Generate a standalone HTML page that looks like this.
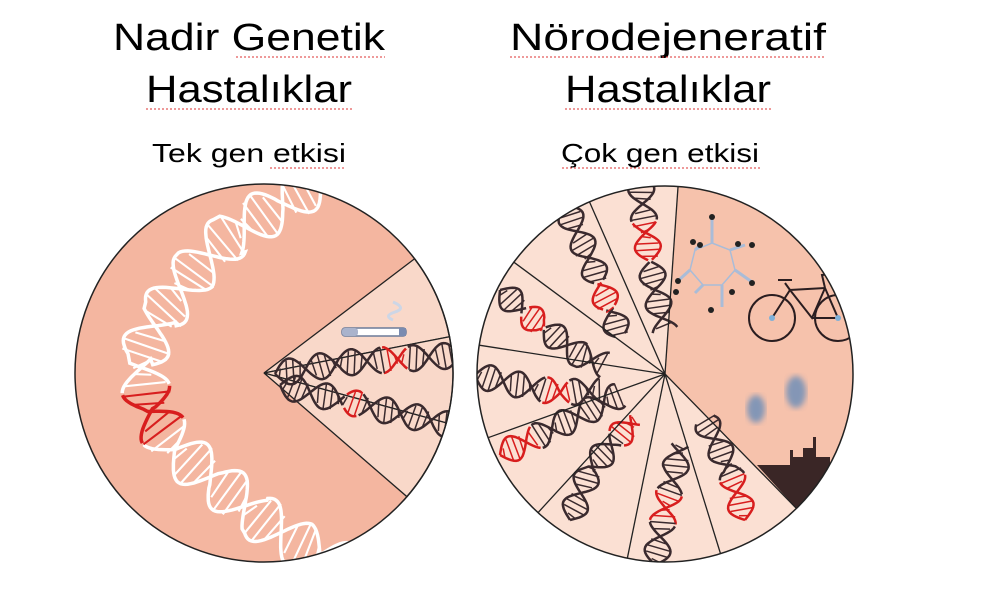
<!DOCTYPE html>
<html><head><meta charset="utf-8"><style>
html,body{margin:0;padding:0;background:#fff;}
svg{display:block;}
text{font-family:"Liberation Sans",sans-serif;fill:#000;}
</style></head><body>
<svg id="s" width="1000" height="600" viewBox="0 0 1000 600" xmlns="http://www.w3.org/2000/svg">
<defs><filter id="bl"><feGaussianBlur stdDeviation="3"/></filter></defs>
<text x="249" y="50" font-size="38" text-anchor="middle" textLength="272" lengthAdjust="spacingAndGlyphs">Nadir Genetik</text>
<text x="249" y="102" font-size="38" text-anchor="middle" textLength="206" lengthAdjust="spacingAndGlyphs">Hastalıklar</text>
<text x="249" y="162" font-size="26" text-anchor="middle" textLength="194" lengthAdjust="spacingAndGlyphs">Tek gen etkisi</text>
<text x="668" y="50" font-size="38" text-anchor="middle" textLength="316" lengthAdjust="spacingAndGlyphs">Nörodejeneratif</text>
<text x="668" y="102" font-size="38" text-anchor="middle" textLength="206" lengthAdjust="spacingAndGlyphs">Hastalıklar</text>
<text x="660" y="162" font-size="26" text-anchor="middle" textLength="198" lengthAdjust="spacingAndGlyphs">Çok gen etkisi</text>
<g stroke="#d33" stroke-width="1" fill="none" stroke-dasharray="2 2">
<path d="M236 57 H385 M146 109 H352 M270 168 H345 M510 57 H826 M565 109 H771 M562 168 H760"/>
</g>
<g id="L"></g>
<g id="R"></g>
</svg>
<script>
const NS="http://www.w3.org/2000/svg";
function el(p,t,a){const e=document.createElementNS(NS,t);for(const k in a)e.setAttribute(k,a[k]);p.appendChild(e);return e;}
function wedge(cx,cy,r,p1,p2,big){
 return `M${cx} ${cy} L${p1[0]} ${p1[1]} A${r} ${r} 0 ${big?1:0} 1 ${p2[0]} ${p2[1]} Z`;}
function pt(cx,cy,r,x,y){const a=Math.atan2(y-cy,x-cx);return [cx+r*Math.cos(a),cy+r*Math.sin(a)];}
function helix(g,pts,A,period,col,reds,sw){
 let segs=[],L=0;
 for(let i=0;i<pts.length-1;i++){const dx=pts[i+1][0]-pts[i][0],dy=pts[i+1][1]-pts[i][1];const l=Math.hypot(dx,dy);segs.push([L,l,dx/l,dy/l,pts[i]]);L+=l;}
 function at(s){for(const sg of segs){if(s<=sg[0]+sg[1]+1e-6){const u=s-sg[0];return [sg[4][0]+sg[2]*u,sg[4][1]+sg[3]*u,-sg[3],sg[2]];}}const sg=segs[segs.length-1];return [sg[4][0]+sg[2]*sg[1],sg[4][1]+sg[3]*sg[1],-sg[3],sg[2]];}
 const n=Math.ceil(L/2);let s1=[],s2=[];
 for(let i=0;i<=n;i++){const s=L*i/n;const p=at(s);const o=A*Math.sin(2*Math.PI*s/period);s1.push([p[0]+p[2]*o,p[1]+p[3]*o,s]);s2.push([p[0]-p[2]*o,p[1]-p[3]*o,s]);}
 const isRed=s=>reds.some(r=>s>=r[0]*L&&s<=r[1]*L);
 function draw(arr){let d="",c=null;
  for(const q of arr){const cc=isRed(q[2])?"#d81e1e":col;
   if(cc!==c){if(d)el(g,"path",{d,stroke:c,fill:"none","stroke-width":sw});d=`M${q[0].toFixed(1)} ${q[1].toFixed(1)}`;c=cc;}else d+=` L${q[0].toFixed(1)} ${q[1].toFixed(1)}`;}
  if(d)el(g,"path",{d,stroke:c,fill:"none","stroke-width":sw});}
 draw(s1);draw(s2);
 const step=period/9;
 for(let s=step/2;s<L;s+=step){const ph=Math.sin(2*Math.PI*s/period);if(Math.abs(ph)<0.3)continue;const p=at(s),p2=at(Math.min(L,s+step*0.4));const o=A*ph;
  el(g,"line",{x1:p[0]+p[2]*o,y1:p[1]+p[3]*o,x2:p2[0]-p2[2]*o,y2:p2[1]-p2[3]*o,stroke:isRed(s)?"#d81e1e":col,"stroke-width":sw*0.6});}
}
// LEFT
const L=document.getElementById("L");
const cx=264,cy=373,r=189;
el(L,"circle",{cx,cy,r,fill:"#f4b6a0"});
const lp=[[413,260],[448,337],[443,422],[405,495]].map(p=>pt(cx,cy,r,p[0],p[1]));
for(let i=0;i<3;i++)el(L,"path",{d:wedge(cx,cy,r,lp[i],lp[i+1]),fill:"#f9d8c9",stroke:"#222","stroke-width":1.3});
const cl=el(L,"clipPath",{id:"cl"});el(cl,"circle",{cx,cy,r});
const lg=el(L,"g",{"clip-path":"url(#cl)"});
helix(lg,[[320,178],[280,205],[230,235],[195,270],[160,315],[140,360],[150,410],[175,450],[215,480],[255,515],[300,545],[360,575]],24,90,"#fff",[[0.5,0.58]],3.5);
el(L,"rect",{x:342,y:328,width:64,height:8,rx:3,fill:"#fff",stroke:"#6b7a99","stroke-width":1.5});
el(L,"rect",{x:342,y:328,width:16,height:8,rx:3,fill:"#aab3cc"});
el(L,"rect",{x:399,y:328,width:7,height:8,fill:"#7a8bb0"});
el(L,"path",{d:"M393 320 q-10 -4 2 -8 q12 -4 -2 -10",stroke:"#cdd6e6","stroke-width":3,fill:"none"});
helix(lg,[[275,374],[340,363],[460,355]],13,62,"#3a2a2e",[[0.58,0.72]],2.5);
helix(lg,[[280,385],[340,400],[450,425]],13,62,"#3a2a2e",[[0.38,0.47]],2.5);
el(L,"circle",{cx,cy,r,fill:"none",stroke:"#222","stroke-width":1.5});
// RIGHT
const R=document.getElementById("R");
const X=665,Y=374,Rr=188;
el(R,"circle",{cx:X,cy:Y,r:Rr,fill:"#fbe0d3"});
const sp=[[678,187],[590,203],[515,263],[478,345],[490,437],[545,505],[628,555],[720,552],[795,507]].map(p=>pt(X,Y,Rr,p[0],p[1]));
el(R,"path",{d:wedge(X,Y,Rr,sp[0],sp[8],false),fill:"#f6c2ac",stroke:"none"});
const cr=el(R,"clipPath",{id:"cr"});el(cr,"circle",{cx:X,cy:Y,r:Rr});
const rg=el(R,"g",{"clip-path":"url(#cr)"});
el(rg,"path",{d:"M757 465 L790 465 L790 450 L793 450 L793 457 L803 457 L803 448 L813 448 L813 437 L816 437 L816 457 L830 457 L830 470 L860 470 L860 560 L795 507 Z",fill:"#3a2626"});
el(rg,"ellipse",{cx:796,cy:392,rx:10,ry:16,fill:"#6f8fb8",opacity:0.85,filter:"url(#bl)"});
el(rg,"ellipse",{cx:756,cy:409,rx:9,ry:14,fill:"#6f8fb8",opacity:0.85,filter:"url(#bl)"});
const mg=el(rg,"g",{stroke:"#a9bcd8","stroke-width":3,fill:"none"});
el(mg,"polygon",{points:"712,243 730,250 735,270 722,285 703,285 690,270 695,250","stroke-width":1.5});
[[712,243,712,218],[730,250,745,245],[735,270,752,282],[722,285,722,307],[703,285,695,293],[690,270,680,279],[695,250,700,245]].forEach(a=>el(mg,"line",{x1:a[0],y1:a[1],x2:a[2],y2:a[3]}));
[[712,217],[693,242],[700,245],[738,244],[752,245],[752,283],[732,292],[711,310],[678,281],[676,292]].forEach(c=>el(rg,"circle",{cx:c[0],cy:c[1],r:3,fill:"#222"}));
const bg=el(rg,"g",{stroke:"#2a1d20","stroke-width":2,fill:"none"});
el(bg,"circle",{cx:772,cy:318,r:23});el(bg,"circle",{cx:838,cy:318,r:23});
el(bg,"path",{d:"M772 318 L790 290 L825 288 L838 318 M790 290 L812 318 L825 288 M812 318 L838 318 M825 288 L822 275 L830 274 M790 290 L785 283 M778 280 L792 280"});
el(rg,"circle",{cx:772,cy:318,r:3,fill:"#7fb0d8"});el(rg,"circle",{cx:838,cy:318,r:3,fill:"#7fb0d8"});
const H=[
 [[[640,175],[645,230],[655,290],[665,330]],[[0.3,0.55]]],
 [[[565,205],[590,260],[610,310],[620,335]],[[0.6,0.8]]],
 [[[500,290],[540,325],[580,355],[605,365]],[[0.25,0.45]]],
 [[[475,375],[520,385],[560,393],[600,390]],[[0.55,0.75]]],
 [[[500,455],[550,430],[590,410],[620,395]],[[0,0.3]]],
 [[[570,520],[590,470],[615,440],[635,420]],[[0.78,1]]],
 [[[655,565],[665,510],[675,470],[680,445]],[[0.35,0.6]]],
 [[[745,520],[730,470],[715,440],[705,420]],[[0,0.4]]]
];
H.forEach(h=>helix(rg,h[0],13,58,"#3a2a2e",h[1],2.5));
for(let i=0;i<9;i++)el(R,"line",{x1:X,y1:Y,x2:sp[i][0],y2:sp[i][1],stroke:"#222","stroke-width":1.3});
el(R,"circle",{cx:X,cy:Y,r:Rr,fill:"none",stroke:"#222","stroke-width":1.5});
</script>
</body></html>
